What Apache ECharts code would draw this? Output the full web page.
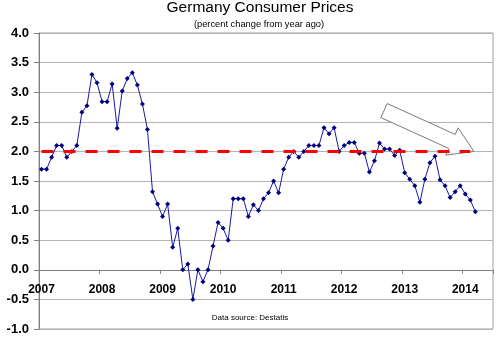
<!DOCTYPE html>
<html><head><meta charset="utf-8">
<script src="https://cdn.jsdelivr.net/npm/echarts@6/dist/echarts.min.js"></script>
<style>html,body{margin:0;padding:0;background:#fff}#c{width:500px;height:339px}</style>
</head><body><div id="c"></div>
<script>
// ---- data ----
const years = ['2007','2008','2009','2010','2011','2012','2013','2014'];
const monthsShownIn2014 = 6; // axis runs to mid-2014
// monthly CPI inflation, Jan 2007 .. Mar 2014 (percent change from year ago)
const cpi = [
  1.7, 1.7, 1.9, 2.1, 2.1, 1.9, 2.0, 2.1, 2.66, 2.77, 3.3, 3.16,
  2.84, 2.84, 3.14, 2.39, 3.02, 3.23, 3.33, 3.12, 2.80, 2.37, 1.32, 1.11,
  0.90, 1.11, 0.38, 0.70, 0.0, 0.1, -0.5, 0.0, -0.2, 0.0, 0.4, 0.8,
  0.7, 0.5, 1.2, 1.2, 1.2, 0.9, 1.1, 1.0, 1.2, 1.3, 1.5, 1.3,
  1.7, 1.9, 2.0, 1.9, 2.0, 2.1, 2.1, 2.1, 2.4, 2.3, 2.4, 2.0,
  2.1, 2.15, 2.15, 1.97, 1.97, 1.65, 1.84, 2.14, 2.04, 2.04, 1.93, 2.02,
  1.64, 1.53, 1.42, 1.14, 1.53, 1.81, 1.92, 1.52, 1.42, 1.22, 1.32, 1.42,
  1.28, 1.18, 0.98
];
const targetRate = 2.0;
const targetStartIndex = 0;
const targetEndIndex = 85;
const yMin = -1.0, yMax = 4.0, yStep = 0.5;
// arrow annotation in data units [month index, value]
const arrowTail = [67.9, 2.69];
const arrowTip = [85.7, 2.0];

// ---- build categories ----
const categories = [];
years.forEach((y, yi) => {
  const n = (yi === years.length - 1) ? monthsShownIn2014 : 12;
  for (let m = 1; m <= n; m++) categories.push(y + '-' + String(m).padStart(2, '0'));
});

const FONT = '"Liberation Sans", Arial, sans-serif';
const GRID = {left: 39, right: 7, top: 33, bottom: 10};
const gridH = 339 - GRID.top - GRID.bottom;
// x axis sits on the zero line of the y axis
const zeroOffset = -((0 - yMin) / (yMax - yMin)) * gridH;

const chart = echarts.init(document.getElementById('c'), null, {renderer: 'canvas'});
const yearStart = (idx) => idx % 12 === 0;

chart.setOption({
  animation: false,
  backgroundColor: '#fff',
  grid: Object.assign({show: true, borderColor: '#a0a0a0', borderWidth: 1, containLabel: false, outerBoundsMode: 'none'}, GRID),
  xAxis: {
    type: 'category', data: categories, boundaryGap: true,
    position: 'bottom', offset: zeroOffset,
    axisLine: {onZero: false, lineStyle: {color: '#808080', width: 1}},
    axisTick: {show: true, interval: (i) => yearStart(i), length: 4, lineStyle: {color: '#808080'}},
    axisLabel: {interval: (i) => yearStart(i), formatter: (v) => v.slice(0, 4), fontFamily: FONT, fontWeight: 'bold', fontSize: 12, color: '#000', margin: 14},
    splitLine: {show: false}
  },
  yAxis: {
    type: 'value', min: yMin, max: yMax, interval: yStep,
    axisLine: {show: true, lineStyle: {color: '#808080'}},
    axisTick: {show: true, length: 5, lineStyle: {color: '#808080'}},
    axisLabel: {formatter: (v) => v.toFixed(1), fontFamily: FONT, fontWeight: 'bold', fontSize: 13, color: '#000', margin: 10},
    splitLine: {show: true, lineStyle: {color: '#b4b4b4', width: 1}}
  },
  series: [{
    type: 'line', data: cpi, symbol: 'diamond', symbolSize: 5, showAllSymbol: true,
    itemStyle: {color: '#000080'}, lineStyle: {color: '#1a1aa0', width: 1},
    z: 2,
    markLine: {
      silent: true, symbol: ['none', 'none'], label: {show: false},
      lineStyle: {color: '#ff0000', width: 3, type: [12, 10]},
      emphasis: {disabled: true},
      data: [[{xAxis: categories[targetStartIndex], yAxis: targetRate}, {xAxis: categories[targetEndIndex], yAxis: targetRate}]]
    }
  }]
});

// arrow annotation anchored to data coordinates
const p0 = chart.convertToPixel({gridIndex: 0}, [0, 0]);
const p1 = chart.convertToPixel({gridIndex: 0}, [84, 4]);
const toPx = (d) => [p0[0] + (d[0] / 84) * (p1[0] - p0[0]), p0[1] + (d[1] / 4) * (p1[1] - p0[1])];
const T = toPx(arrowTail), P = toPx(arrowTip);
const dx = P[0] - T[0], dy = P[1] - T[1], len = Math.hypot(dx, dy);
const u = [dx / len, dy / len], n = [u[1], -u[0]];
const w = 7.7, h = 15, L = 24;
const B = [P[0] - u[0] * L, P[1] - u[1] * L];
const pt = (base, k) => [base[0] + n[0] * k, base[1] + n[1] * k];
const poly = [pt(T, w), pt(B, w), pt(B, h), P, pt(B, -h), pt(B, -w), pt(T, -w)];
const txt = (text, x, y, size) => ({type: 'text', x: x, y: y, z: 5, style: {text: text, font: size + 'px ' + FONT, fill: '#000', align: 'center', verticalAlign: 'middle', textAlign: 'center', textVerticalAlign: 'middle'}});
chart.setOption({graphic: [
  txt('Germany Consumer Prices', 260, 8, 15.5),
  txt('(percent change from year ago)', 259, 24.5, 9.3),
  txt('Data source: Destatis', 250, 318, 8),
  {type: 'polygon', shape: {points: poly}, style: {fill: '#ffffff', stroke: '#7a7a7a', lineWidth: 1}, z: 1}
]});
</script>
</body></html>
